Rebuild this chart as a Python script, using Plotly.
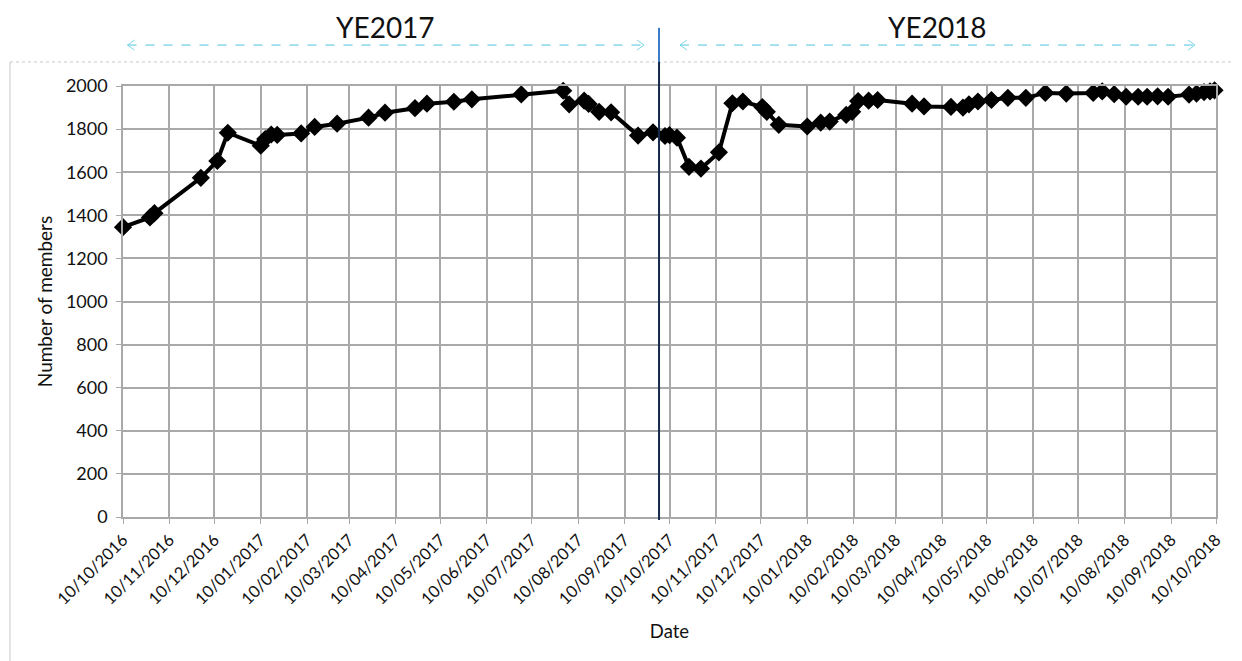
import plotly.graph_objects as go
from datetime import date

# ---- data ----
dates = [
    "2016-10-10", "2016-10-28", "2016-10-31", "2016-12-01", "2016-12-12", "2016-12-19",
    "2017-01-10", "2017-01-13", "2017-01-17", "2017-01-21", "2017-02-06", "2017-02-15",
    "2017-03-02", "2017-03-23", "2017-04-03", "2017-04-23", "2017-05-01", "2017-05-19",
    "2017-05-31", "2017-07-03", "2017-07-31", "2017-08-04", "2017-08-14", "2017-08-17",
    "2017-08-24", "2017-09-01", "2017-09-19", "2017-09-29", "2017-10-07", "2017-10-10",
    "2017-10-15", "2017-10-23", "2017-10-31", "2017-11-12", "2017-11-21", "2017-11-28",
    "2017-12-11", "2017-12-14", "2017-12-22", "2018-01-10", "2018-01-19", "2018-01-25",
    "2018-02-05", "2018-02-09", "2018-02-13", "2018-02-20", "2018-02-26", "2018-03-21",
    "2018-03-29", "2018-04-16", "2018-04-24", "2018-04-28", "2018-05-04", "2018-05-13",
    "2018-05-24", "2018-06-05", "2018-06-18", "2018-07-02", "2018-07-20", "2018-07-26",
    "2018-08-03", "2018-08-11", "2018-08-19", "2018-08-25", "2018-09-01", "2018-09-08",
    "2018-09-22", "2018-09-27", "2018-10-02", "2018-10-06", "2018-10-09",
]
members = [
    1345, 1390, 1410, 1574, 1652, 1783,
    1723, 1754, 1775, 1773, 1780, 1810,
    1825, 1853, 1876, 1897, 1918, 1927,
    1938, 1961, 1978, 1915, 1932, 1917,
    1880, 1878, 1770, 1785, 1768, 1772,
    1760, 1625, 1617, 1692, 1920, 1928,
    1902, 1880, 1820, 1812, 1830, 1835,
    1866, 1880, 1930, 1932, 1935, 1918,
    1905, 1903, 1900, 1915, 1928, 1935,
    1945, 1945, 1968, 1965, 1968, 1975,
    1962, 1950, 1950, 1950, 1952, 1950,
    1960, 1965, 1972, 1975, 1980,
]

tick_dates = []
for i in range(25):
    y = 2016 + (9 + i) // 12
    m = (9 + i) % 12 + 1
    tick_dates.append(date(y, m, 10))
tick_labels = [d.strftime("%d/%m/%Y") for d in tick_dates]

x_start, x_end = "2016-10-10", "2018-10-10"
divider_date = "2017-10-03"
periods = [
    ("YE2017", "2016-10-13", "2017-09-23"),
    ("YE2018", "2017-10-17", "2018-09-26"),
]

FONT = "Lato"
GRID = "#A9A9A9"
TXT = "#111111"

fig = go.Figure()
fig.add_trace(go.Scatter(
    x=dates, y=members, mode="lines+markers",
    line=dict(color="black", width=4),
    marker=dict(symbol="diamond", size=14, color="black"),
    cliponaxis=False, showlegend=False,
))

shapes = []
annotations = []
# chart-area frame (top dotted, left solid)
shapes.append(dict(type="line", xref="paper", yref="paper", x0=-0.1034, x1=1.03,
                   y0=1.0557, y1=1.0557, line=dict(color="#C8C8C8", width=1, dash="dot")))
shapes.append(dict(type="line", xref="paper", yref="paper", x0=-0.1034, x1=-0.1034,
                   y0=1.0557, y1=-0.40, line=dict(color="#C8C8C8", width=1)))
# divider
shapes.append(dict(type="line", xref="x", yref="paper", x0=divider_date, x1=divider_date,
                   y0=1.0557, y1=1.135, line=dict(color="#3A7CC8", width=2)))
shapes.append(dict(type="line", xref="x", yref="paper", x0=divider_date, x1=divider_date,
                   y0=-0.007, y1=1.0557, line=dict(color="#13294B", width=2)))

arrow_y = 1.095
for label, a, b in periods:
    shapes.append(dict(type="line", xref="x", yref="paper", x0=a, x1=b, y0=arrow_y, y1=arrow_y,
                       line=dict(color="#4FC4E0", width=1, dash="dash")))
    shapes.append(dict(type="path", xref="x", yref="paper", xsizemode="pixel", ysizemode="pixel",
                       xanchor=a, yanchor=arrow_y, path="M 7,5 L 0,0 L 7,-5",
                       line=dict(color="#7FD6EA", width=1)))
    shapes.append(dict(type="path", xref="x", yref="paper", xsizemode="pixel", ysizemode="pixel",
                       xanchor=b, yanchor=arrow_y, path="M -7,5 L 0,0 L -7,-5",
                       line=dict(color="#7FD6EA", width=1)))
    mid = date.fromisoformat(a) + (date.fromisoformat(b) - date.fromisoformat(a)) / 2
    annotations.append(dict(text=label, xref="x", yref="paper", x=mid.isoformat(), y=1.136,
                            showarrow=False, yanchor="middle",
                            font=dict(family=FONT, size=28, color=TXT)))

# page body has an 8px margin: figure is shrunk so the plot area lands where the reference has it
fig.update_layout(
    width=1234, height=653,
    margin=dict(l=115, r=26, t=78, b=144),
    paper_bgcolor="white", plot_bgcolor="white",
    font=dict(family=FONT, size=15, color=TXT),
    shapes=shapes, annotations=annotations,
)
fig.update_xaxes(
    type="date", range=[x_start, x_end],
    tickvals=[d.isoformat() for d in tick_dates], ticktext=tick_labels,
    tickangle=-45, tickfont=dict(family=FONT, size=16.5, color=TXT),
    showgrid=True, gridcolor=GRID, gridwidth=1.5,
    showline=True, linecolor=GRID, linewidth=1.5, mirror=True,
    ticks="outside", ticklen=5, tickcolor=GRID, zeroline=False,
    title=dict(text="Date", font=dict(family=FONT, size=18.5, color=TXT), standoff=17),
)
fig.update_yaxes(
    range=[0, 2000], dtick=200,
    tickfont=dict(family=FONT, size=18, color=TXT),
    ticklabelstandoff=5,
    showgrid=True, gridcolor=GRID, gridwidth=1.5,
    showline=True, linecolor=GRID, linewidth=1.5, mirror=True,
    ticks="outside", ticklen=5, tickcolor=GRID, zeroline=False,
    title=dict(text="Number of members", font=dict(family=FONT, size=19, color=TXT), standoff=8),
)

fig.write_html("out.html")
